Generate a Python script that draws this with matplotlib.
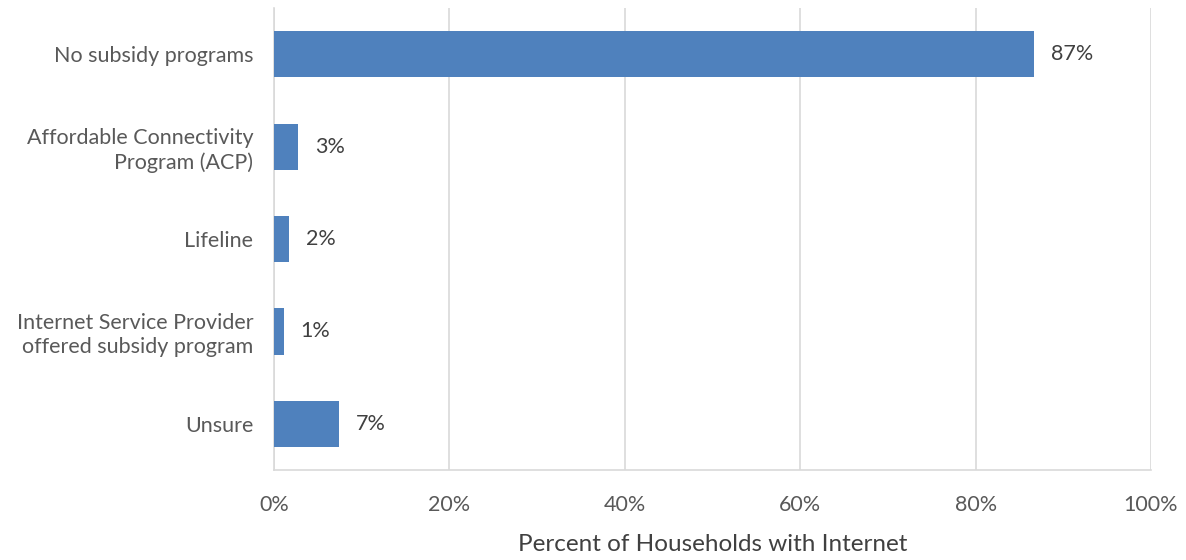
import numpy as np
import matplotlib
matplotlib.use("Agg")
import matplotlib.pyplot as plt
from matplotlib.ticker import FuncFormatter

categories = ['No subsidy programs',
              'Affordable Connectivity\nProgram (ACP)',
              'Lifeline',
              'Internet Service Provider\noffered subsidy program',
              'Unsure']
values = [86.7, 2.74, 1.7, 1.1, 7.44]
xticks = [0, 20, 40, 60, 80, 100]

plt.rcParams['font.family'] = ['Lato', 'DejaVu Sans']

fig, ax = plt.subplots(figsize=(11.86, 5.6), dpi=100)
fig.subplots_adjust(left=0.231, right=0.9705, top=0.9857, bottom=0.1607)

y = np.arange(len(categories))
bars = ax.barh(y, values, height=0.5, color='#4f81bd', zorder=3)
ax.set_ylim(len(categories) - 0.5, -0.5)
ax.set_xlim(0, 100)

ax.set_yticks(y)
ax.set_yticklabels(categories, fontsize=15.5, color='#595959', ha='right',
                   linespacing=1.25)
ax.set_xticks(xticks)
ax.xaxis.set_major_formatter(FuncFormatter(lambda v, p: '{:.0f}%'.format(v)))
ax.tick_params(axis='x', length=0, pad=18, labelsize=15.5, labelcolor='#595959')
ax.tick_params(axis='y', length=0, pad=15)

ax.grid(axis='x', color='#d9d9d9', linewidth=1.2, zorder=0)
for s in ['top', 'right']:
    ax.spines[s].set_visible(False)
for s in ['left', 'bottom']:
    ax.spines[s].set_color('#d9d9d9')
    ax.spines[s].set_linewidth(1.2)

ax.set_xlabel('Percent of Households with Internet', fontsize=17.5,
              color='#404040', labelpad=14)

for rect, v in zip(bars, values):
    ax.annotate('{:.0f}%'.format(v),
                xy=(rect.get_width(), rect.get_y() + rect.get_height() / 2),
                xytext=(12, 0), textcoords='offset points',
                ha='left', va='center', fontsize=15.5, color='#404040')

fig.savefig('out.png', dpi=100)
